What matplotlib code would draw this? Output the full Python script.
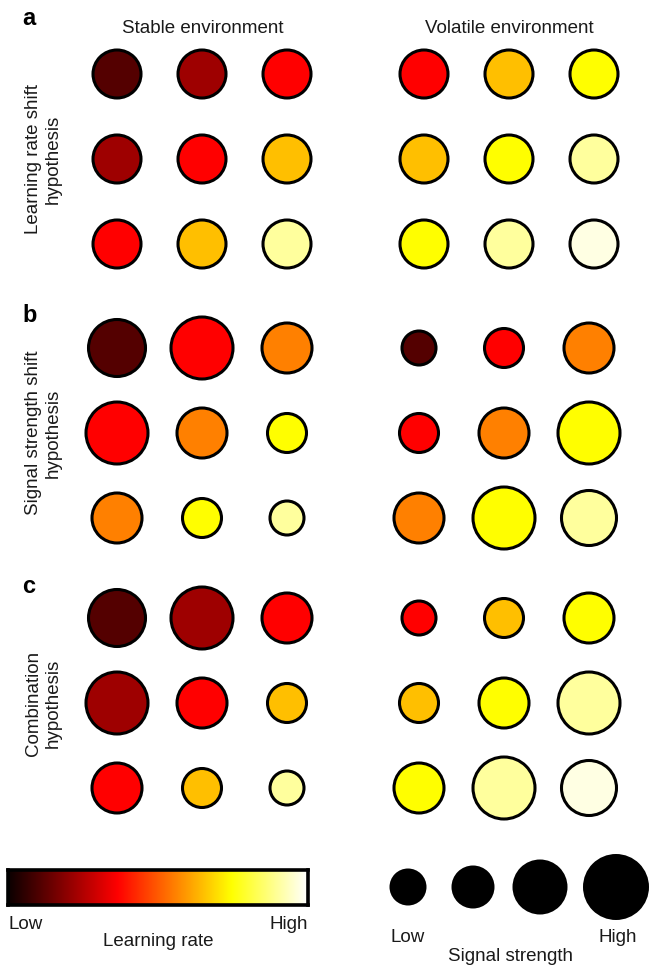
import numpy as np
import matplotlib.pyplot as plt

plt.rcParams['font.family'] = ['Liberation Sans', 'DejaVu Sans']

W, H = 649, 967
TXT = '#1a1a1a'

# learning rate per circle (0 = low, 1 = high), rows top to bottom
lr_a_stable = [[0.11, 0.22, 0.365], [0.22, 0.365, 0.65], [0.365, 0.65, 0.90]]
lr_a_volatile = [[0.365, 0.65, 0.746], [0.65, 0.746, 0.90], [0.746, 0.90, 0.97]]
lr_b_stable = [[0.11, 0.365, 0.556], [0.365, 0.556, 0.746], [0.556, 0.746, 0.90]]
lr_b_volatile = [[0.11, 0.365, 0.556], [0.365, 0.556, 0.746], [0.556, 0.746, 0.90]]
lr_c_stable = [[0.11, 0.22, 0.365], [0.22, 0.365, 0.65], [0.365, 0.65, 0.90]]
lr_c_volatile = [[0.365, 0.65, 0.746], [0.65, 0.746, 0.90], [0.746, 0.90, 0.97]]

# signal strength, given as circle diameter in pixels
sig_a_stable = [[51, 51, 51], [51, 51, 51], [51, 51, 51]]
sig_a_volatile = [[51, 51, 51], [51, 51, 51], [51, 51, 51]]
sig_b_stable = [[60, 65, 53], [65, 53, 42], [53, 42, 37]]
sig_b_volatile = [[37, 42, 53], [42, 53, 65], [53, 65, 58]]
sig_c_stable = [[60, 65, 53], [65, 53, 42], [53, 42, 37]]
sig_c_volatile = [[37, 42, 53], [42, 53, 65], [53, 65, 58]]

legend_sizes = [37, 43, 55, 66]

env_labels = ['Stable environment', 'Volatile environment']
row_labels = ['Learning rate shift\nhypothesis', 'Signal strength shift\nhypothesis',
              'Combination\nhypothesis']
panel_letters = ['a', 'b', 'c']

fig = plt.figure(figsize=(W / 100, H / 100), dpi=100)


def px_box(left, top, w, h):
    return [left / W, 1 - (top + h) / H, w / W, h / H]


def ftext(x, y, s, **kw):
    fig.text(x / W, 1 - y / H, s, **kw)


def px_to_pt2(d, edge=3):
    # outer diameter in px -> scatter area in pt^2 (minus edge)
    return ((np.asarray(d, float) - edge) * 0.72) ** 2


def draw_grid(left, top, lr, sig):
    ax = fig.add_axes(px_box(left, top, 255, 255))
    lr = np.array(lr)
    sig = np.array(sig)
    rows, cols = np.indices(lr.shape)
    ax.scatter(cols.ravel(), rows.ravel(), s=px_to_pt2(sig.ravel()), c=lr.ravel(),
               cmap='hot', vmin=0, vmax=1, edgecolors='black', linewidths=2.2,
               clip_on=False)
    ax.set_xlim(-0.5, 2.5)
    ax.set_ylim(2.5, -0.5)
    ax.axis('off')


grids = [
    (lr_a_stable, sig_a_stable, lr_a_volatile, sig_a_volatile, 31.5, 381.5, 25),
    (lr_b_stable, sig_b_stable, lr_b_volatile, sig_b_volatile, 305.5, 376.5, 322),
    (lr_c_stable, sig_c_stable, lr_c_volatile, sig_c_volatile, 575.5, 376.5, 593),
]
for i, (lrs, ss, lrv, sv, top, vleft, letter_y) in enumerate(grids):
    draw_grid(74.5, top, lrs, ss)
    draw_grid(vleft, top, lrv, sv)
    ftext(22, letter_y, panel_letters[i], fontsize=17, fontweight='bold',
          ha='left', va='baseline', color='black')
    ftext(43, top + 127.5, row_labels[i], fontsize=13.5, rotation=90,
          ha='center', va='center', multialignment='center', color=TXT)

ftext(203, 33, env_labels[0], fontsize=13.5, ha='center', va='baseline', color=TXT)
ftext(509, 33, env_labels[1], fontsize=13.5, ha='center', va='baseline', color=TXT)

# learning-rate colour bar
ax_cb = fig.add_axes(px_box(8, 870, 300, 35))
ax_cb.imshow(np.linspace(0, 1, 256)[None, :], cmap='hot', aspect='auto')
ax_cb.set_xticks([])
ax_cb.set_yticks([])
for sp in ax_cb.spines.values():
    sp.set_linewidth(2.6)
ftext(8, 929, 'Low', fontsize=13.5, ha='left', va='baseline', color=TXT)
ftext(308, 929, 'High', fontsize=13.5, ha='right', va='baseline', color=TXT)
ftext(158, 946, 'Learning rate', fontsize=13.5, ha='center', va='baseline', color=TXT)

# signal-strength size legend, laid out in pixel space
ax_leg = fig.add_axes([0, 0, 1, 1])
ax_leg.set_xlim(0, W)
ax_leg.set_ylim(H, 0)
ax_leg.axis('off')
legend_x = [408, 473, 540, 616]
ax_leg.scatter(legend_x, [887] * len(legend_sizes), s=px_to_pt2(legend_sizes, edge=0),
               color='black', linewidths=0, clip_on=False)
ftext(408, 942, 'Low', fontsize=13.5, ha='center', va='baseline', color=TXT)
ftext(618, 942, 'High', fontsize=13.5, ha='center', va='baseline', color=TXT)
ftext(511, 961, 'Signal strength', fontsize=13.5, ha='center', va='baseline', color=TXT)

fig.savefig('out.png', dpi=100)
